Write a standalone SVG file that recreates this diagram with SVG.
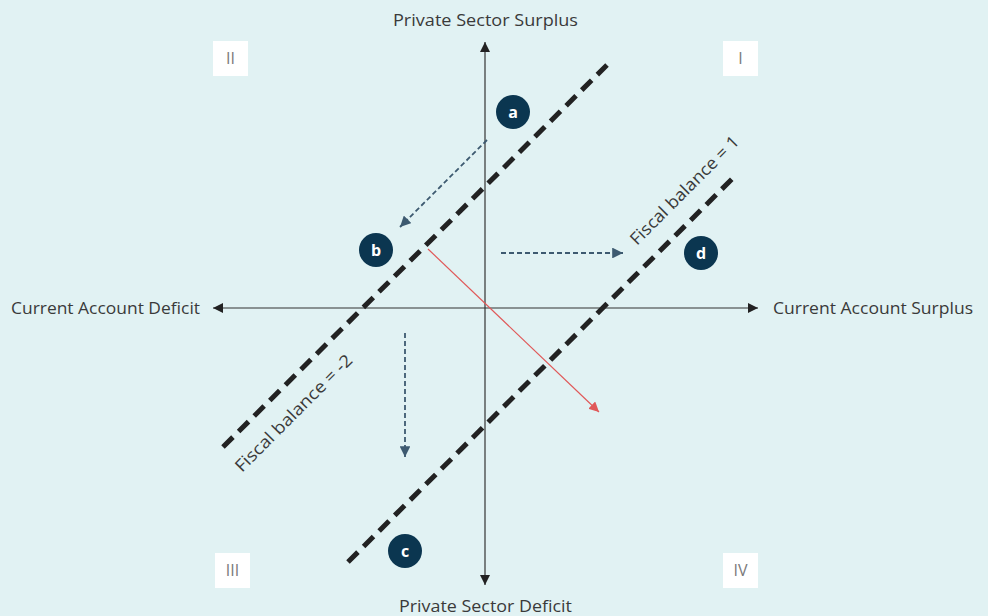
<svg xmlns="http://www.w3.org/2000/svg" width="988" height="616" viewBox="0 0 988 616">
<defs>
<style>
.lbl{font-family:"Open Sans","Liberation Sans",sans-serif;font-size:17px;fill:#3a3a3a;}
.rom{font-family:"Open Sans","Liberation Sans",sans-serif;font-size:16px;fill:#7a7a7a;text-anchor:middle;}
.box{fill:#ffffff;}
.axis{stroke:#333;stroke-width:1.2;fill:none;}
.fb{stroke:#222;stroke-width:5;stroke-dasharray:14 8;fill:none;}
.mv{stroke:#3d5a70;stroke-width:1.8;stroke-dasharray:5 3;fill:none;}
.red{stroke:#e05858;stroke-width:1.2;fill:none;}
.dot{fill:#0b3650;}
.dl{font-family:"Open Sans","Liberation Sans",sans-serif;font-size:16px;font-weight:bold;fill:#ffffff;text-anchor:middle;}
</style>
<marker id="ah" viewBox="0 0 10 10" refX="10" refY="5" markerWidth="10" markerHeight="10" markerUnits="userSpaceOnUse" orient="auto"><path d="M0,0 L10,5 L0,10 z" fill="#222"/></marker>
<marker id="ahb" viewBox="0 0 10 10" refX="10" refY="5" markerWidth="6" markerHeight="6" orient="auto"><path d="M0,0 L10,5 L0,10 z" fill="#3d5a70"/></marker>
<marker id="ahr" viewBox="0 0 10 10" refX="10" refY="5" markerWidth="10" markerHeight="10" markerUnits="userSpaceOnUse" orient="auto"><path d="M0,0 L10,5 L0,10 z" fill="#e05858"/></marker>
</defs>
<rect width="988" height="616" fill="#e1f2f3"/>
<g id="quadrants">
<rect class="box" x="213" y="41" width="35" height="35"/><text class="rom" x="230.5" y="64">II</text>
<rect class="box" x="723" y="41" width="35" height="35"/><text class="rom" x="740.5" y="64">I</text>
<rect class="box" x="215" y="553" width="35" height="35"/><text class="rom" x="232.5" y="576">III</text>
<rect class="box" x="723" y="553" width="35" height="35"/><text class="rom" x="740.5" y="576">IV</text>
</g>
<g id="connectors">
<line class="axis" x1="485" y1="308" x2="485" y2="42" marker-end="url(#ah)"/>
<line class="axis" x1="485" y1="308" x2="485" y2="585" marker-end="url(#ah)"/>
<line class="axis" x1="485" y1="308" x2="758" y2="308" marker-end="url(#ah)"/>
<line class="axis" x1="485" y1="308" x2="213" y2="308" marker-end="url(#ah)"/>
<line class="fb" x1="223" y1="447" x2="607" y2="65"/>
<line class="fb" x1="348" y1="562" x2="733" y2="178"/>
<line class="mv" x1="487" y1="140" x2="400" y2="227" marker-end="url(#ahb)"/>
<line class="mv" x1="501" y1="253" x2="623" y2="253" marker-end="url(#ahb)"/>
<line class="mv" x1="405" y1="333" x2="405" y2="457" marker-end="url(#ahb)"/>
<line class="red" x1="428" y1="249" x2="599" y2="412" marker-end="url(#ahr)"/>
</g>
<g id="axis-labels">
<text class="lbl" x="393" y="26" textLength="185" lengthAdjust="spacingAndGlyphs">Private Sector Surplus</text>
<text class="lbl" x="399" y="612" textLength="173" lengthAdjust="spacingAndGlyphs">Private Sector Deficit</text>
<text class="lbl" x="11" y="314" textLength="189" lengthAdjust="spacingAndGlyphs">Current Account Deficit</text>
<text class="lbl" x="773" y="314" textLength="200" lengthAdjust="spacingAndGlyphs">Current Account Surplus</text>
</g>
<g id="fiscal-labels">
<text class="lbl" transform="translate(637,246) rotate(-45)" textLength="146" lengthAdjust="spacingAndGlyphs">Fiscal balance = 1</text>
<text class="lbl" transform="translate(242,473) rotate(-45)" textLength="158" lengthAdjust="spacingAndGlyphs">Fiscal balance = -2</text>
</g>
<g id="node-a"><circle class="dot" cx="513" cy="112" r="17"/><text class="dl" x="513" y="118">a</text></g>
<g id="node-b"><circle class="dot" cx="376" cy="250" r="17"/><text class="dl" x="376" y="256">b</text></g>
<g id="node-c"><circle class="dot" cx="405" cy="551" r="17"/><text class="dl" x="405" y="557">c</text></g>
<g id="node-d"><circle class="dot" cx="701" cy="253" r="17"/><text class="dl" x="701" y="259">d</text></g>
</svg>
